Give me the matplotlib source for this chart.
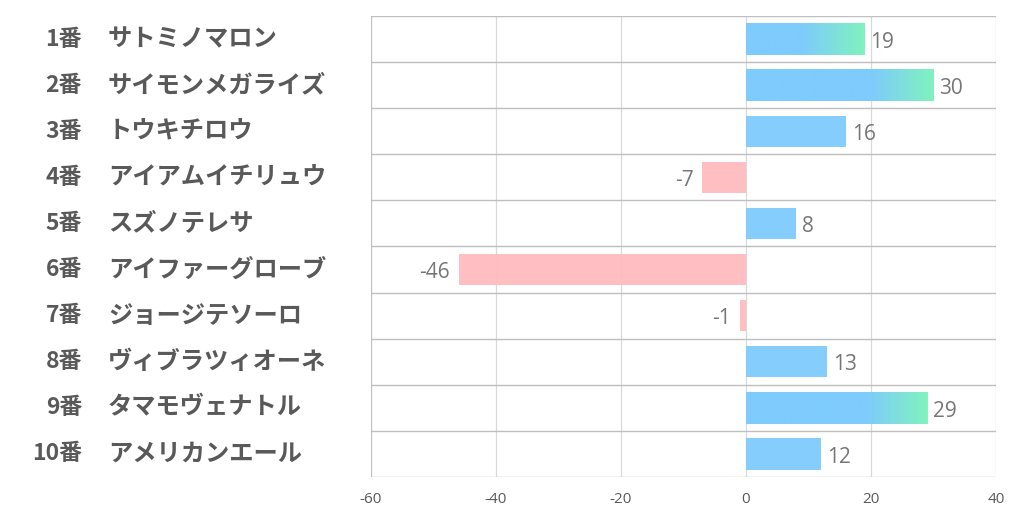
import matplotlib; matplotlib.use('Agg')
import matplotlib.pyplot as plt
import matplotlib.transforms as mtransforms
from matplotlib.colors import LinearSegmentedColormap
import numpy as np

plt.rcParams['font.family'] = ['Noto Sans CJK JP', 'DejaVu Sans']

numbers = ['1番', '2番', '3番', '4番', '5番', '6番', '7番', '8番', '9番', '10番']
horses = ['サトミノマロン', 'サイモンメガライズ', 'トウキチロウ', 'アイアムイチリュウ', 'スズノテレサ',
          'アイファーグローブ', 'ジョージテソーロ', 'ヴィブラツィオーネ', 'タマモヴェナトル', 'アメリカンエール']
values = [19, 30, 16, -7, 8, -46, -1, 13, 29, 12]
xticks = [-60, -40, -20, 0, 20, 40]

BLUE = '#7ECBFD'
GREEN = '#80F5BA'
PINK = '#FFBBBF'
GRAD_SPAN = 10      # gradient length (data units) at the end of high bars
GRAD_MIN = 18       # bars above this get the green tip

fig = plt.figure(figsize=(10.22, 5.22), dpi=100)
fig.patch.set_facecolor('white')
ax = fig.add_axes([371/1022, 1-477/522, (996-371)/1022, (477-16)/522])

y = np.arange(len(values))
colors = [BLUE if v >= 0 else PINK for v in values]
bars = ax.barh(y, values, height=0.68, color=colors, alpha=0.95, zorder=2, linewidth=0)

cmap = LinearSegmentedColormap.from_list('bg', [BLUE, GREEN])
for bar, v, yi in zip(bars, values, y):
    if v > GRAD_MIN:
        xs = np.linspace(0, v, 300)
        t = np.clip((xs - (v - GRAD_SPAN)) / GRAD_SPAN, 0, 1)
        im = ax.imshow(t[np.newaxis, :], cmap=cmap, vmin=0, vmax=1, aspect='auto',
                       extent=[0, v, yi + 0.34, yi - 0.34], zorder=2.5, alpha=0.95,
                       interpolation='bilinear')
        im.set_clip_path(bar)

for v, yi in zip(values, y):
    if v >= 0:
        ax.text(v + 0.9, yi + 0.07, str(v), ha='left', va='center',
                fontsize=15, color='#767676', family=['Open Sans', 'DejaVu Sans'])
    else:
        ax.text(v - 1.4, yi + 0.07, str(v), ha='right', va='center',
                fontsize=15, color='#767676', family=['Open Sans', 'DejaVu Sans'])

ax.set_xlim(-60, 40)
ax.set_ylim(len(values) - 0.5, -0.5)
ax.set_xticks(xticks)
ax.set_xticklabels([str(t) for t in xticks], fontsize=11, color='#595959',
                   family=['Open Sans', 'DejaVu Sans'])
ax.tick_params(axis='x', length=0, pad=11)
ax.set_yticks([])

for t in xticks:
    ax.axvline(t, color='#BFBFBF' if t == xticks[0] else '#D9D9D9', linewidth=0.9, zorder=1)
for b in np.arange(-0.5, len(values), 1.0):
    ax.axhline(b, color='#BFBFBF', linewidth=1.0, zorder=1)
for s in ax.spines.values():
    s.set_visible(False)

trans = mtransforms.blended_transform_factory(fig.transFigure, ax.transData)
for n, h, yi in zip(numbers, horses, y):
    ax.text(82/1022, yi, n, transform=trans, ha='right', va='center',
            fontsize=16.5, fontweight='bold', color='#595959')
    ax.text(108/1022, yi, h, transform=trans, ha='left', va='center',
            fontsize=17.5, fontweight='bold', color='#595959')

plt.savefig('out.png', dpi=100, facecolor='white')
